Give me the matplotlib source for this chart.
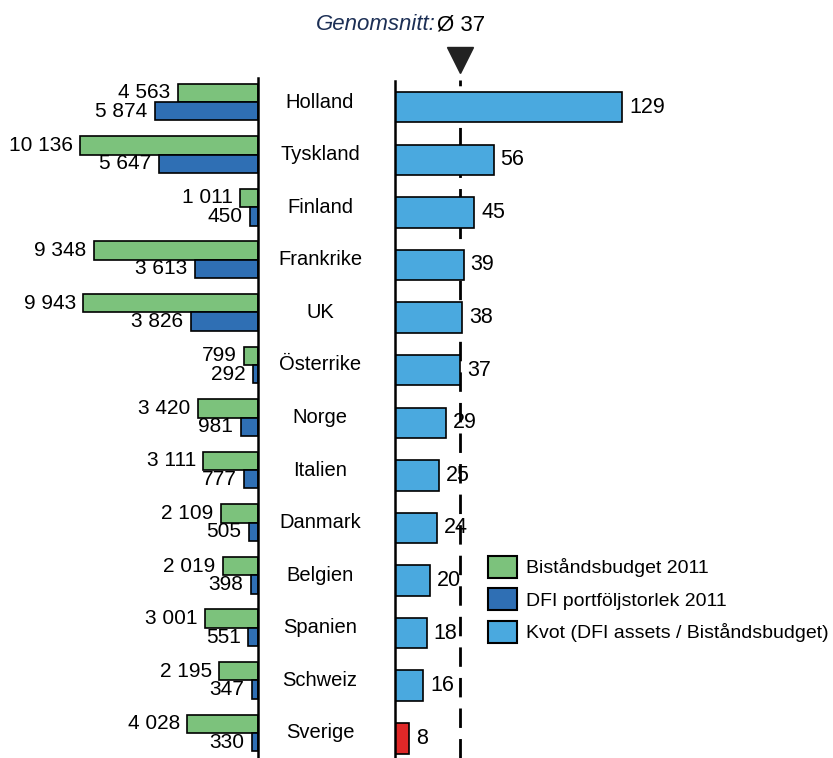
import numpy as np
import matplotlib.pyplot as plt
from matplotlib.patches import Patch

plt.rcParams['font.family'] = ['Liberation Sans', 'DejaVu Sans']

countries = ['Holland', 'Tyskland', 'Finland', 'Frankrike', 'UK', 'Österrike', 'Norge',
             'Italien', 'Danmark', 'Belgien', 'Spanien', 'Schweiz', 'Sverige']
budget = [4563, 10136, 1011, 9348, 9943, 799, 3420, 3111, 2109, 2019, 3001, 2195, 4028]
dfi = [5874, 5647, 450, 3613, 3826, 292, 981, 777, 505, 398, 551, 347, 330]
kvot = [129, 56, 45, 39, 38, 37, 29, 25, 24, 20, 18, 16, 8]
average = 37

green = '#7cc27c'
dblue = '#2f6fb4'
lblue = '#4aa9df'
red = '#e02828'

def fmt(v):
    return f'{v:,}'.replace(',', ' ')

W, H = 833, 758
fig = plt.figure(figsize=(W / 100, H / 100), dpi=100)

top, bottom = 78, 758
axl = fig.add_axes([0, 0, 258 / W, (bottom - top) / H])
axr = fig.add_axes([395 / W, 0, (W - 395) / W, (bottom - top) / H])

y = np.arange(len(countries))
ylim = (12.475, -0.456)

# left panel: budget + DFI portfolio
h = 0.35
axl.barh(y - h / 2, budget, height=h, color=green, edgecolor='black', linewidth=1.2)
axl.barh(y + h / 2, dfi, height=h, color=dblue, edgecolor='black', linewidth=1.2)
for i in range(len(countries)):
    axl.text(budget[i] + 430, y[i] - h / 2, fmt(budget[i]), ha='right', va='center', fontsize=15)
    axl.text(dfi[i] + 430, y[i] + h / 2, fmt(dfi[i]), ha='right', va='center', fontsize=15)
axl.set_xlim(14700, 0)
axl.set_ylim(*ylim)

# country names between panels
for i, c in enumerate(countries):
    fig.text(320 / W, 1 - (102 + 52.58 * i) / H, c, ha='center', va='center', fontsize=14.5)

# right panel: ratio
colors = [lblue] * (len(kvot) - 1) + [red]
axr.barh(y + 0.1, kvot, height=0.58, color=colors, edgecolor='black', linewidth=1.2)
for i in range(len(kvot)):
    axr.text(kvot[i] + 4, y[i] + 0.1, str(kvot[i]), ha='left', va='center', fontsize=15.5)
axr.set_xlim(0, 249)
axr.set_ylim(*ylim)
axr.plot([average, average], [ylim[0], -0.42], color='black', lw=2,
         dashes=(7, 4), clip_on=False, zorder=0)
axr.plot([average], [-0.8], marker='v', color='#222222', markersize=19, clip_on=False)

for ax in (axl, axr):
    for s in ax.spines.values():
        s.set_visible(False)
    ax.set_xticks([])
    ax.set_yticks([])
axl.spines['right'].set_visible(True)
axl.spines['right'].set_linewidth(1.8)
axr.spines['left'].set_visible(True)
axr.spines['left'].set_linewidth(1.8)
axr.spines['left'].set_bounds(12.475, -0.4)

fig.text(436 / W, 1 - 25 / H, 'Genomsnitt:', ha='right', va='center', fontsize=16,
         style='italic', color='#1c2f55')
fig.text(437 / W, 1 - 25 / H, 'Ø 37', ha='left', va='center', fontsize=16)

handles = [Patch(facecolor=green, edgecolor='black', linewidth=1.5),
           Patch(facecolor=dblue, edgecolor='black', linewidth=1.5),
           Patch(facecolor=lblue, edgecolor='black', linewidth=1.5)]
labels = ['Biståndsbudget 2011', 'DFI portföljstorlek 2011', 'Kvot (DFI assets / Biståndsbudget)']
fig.legend(handles, labels, loc='upper left', bbox_to_anchor=(478 / W, 1 - 546 / H),
           frameon=False, fontsize=14, handlelength=1.5, handleheight=1.35,
           handletextpad=0.45, labelspacing=0.55, borderpad=0)

fig.savefig('out.png', dpi=100)
